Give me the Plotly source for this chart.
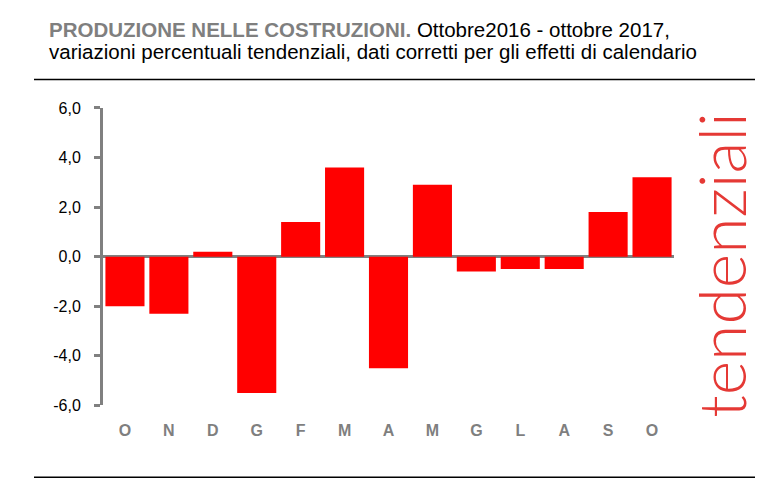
import plotly.graph_objects as go

W, H = 761, 494

months = ["O", "N", "D", "G", "F", "M", "A", "M", "G", "L", "A", "S", "O"]
values = [-2.0, -2.3, 0.2, -5.5, 1.4, 3.6, -4.5, 2.9, -0.6, -0.5, -0.5, 1.8, 3.2]
ytick_vals = [-6, -4, -2, 0, 2, 4, 6]
ytick_text = ["-6,0", "-4,0", "-2,0", "0,0", "2,0", "4,0", "6,0"]

cats = list(range(len(months)))

FONT = "Liberation Sans, Arial"

fig = go.Figure()
fig.add_trace(go.Bar(
    x=cats, y=values,
    marker=dict(color="#ff0000", line=dict(width=0)),
    width=0.89,
    hoverinfo="skip",
))

fig.update_layout(
    width=W, height=H,
    margin=dict(l=0, r=0, t=0, b=0),
    paper_bgcolor="white", plot_bgcolor="white",
    showlegend=False,
    xaxis=dict(
        domain=[103 / W, 674 / W],
        range=[-0.5, len(months) - 0.5],
        tickmode="array", tickvals=cats, ticktext=months,
        showgrid=False, zeroline=False, showline=False,
        ticks="", ticklabelstandoff=14,
        tickfont=dict(family=FONT, size=16, color="#7f7f7f", weight="bold"),
        fixedrange=True,
    ),
    yaxis=dict(
        domain=[1 - 411.5 / H, 1 - 103.5 / H],
        range=[-6, 6],
        tickmode="array", tickvals=ytick_vals, ticktext=ytick_text,
        showgrid=False,
        zeroline=True, zerolinecolor="#808080", zerolinewidth=3,
        showline=True, linecolor="#808080", linewidth=3,
        ticks="outside", ticklen=6, tickwidth=3, tickcolor="#808080",
        ticklabelstandoff=10,
        tickfont=dict(family=FONT, size=16, color="#000000"),
        fixedrange=True,
    ),
    shapes=[
        dict(type="line", xref="paper", yref="paper",
             x0=34 / W, x1=755 / W, y0=1 - 74 / H, y1=1 - 74 / H,
             line=dict(color="#000000", width=1.5)),
        dict(type="line", xref="paper", yref="paper",
             x0=34 / W, x1=755 / W, y0=1 - 486 / H, y1=1 - 486 / H,
             line=dict(color="#000000", width=1.5)),
    ],
    annotations=[
        dict(xref="paper", yref="paper", x=47 / W, y=1 - 36 / H,
             xanchor="left", yanchor="bottom", showarrow=False,
             text="<b><span style='color:#7f7f7f'>PRODUZIONE NELLE COSTRUZIONI.</span></b> Ottobre2016 - ottobre 2017,",
             font=dict(family=FONT, size=20.5, color="#000000")),
        dict(xref="paper", yref="paper", x=47 / W, y=1 - 59.5 / H,
             xanchor="left", yanchor="bottom", showarrow=False,
             text="variazioni percentuali tendenziali, dati corretti per gli effetti di calendario",
             font=dict(family=FONT, size=20.5, color="#000000")),
        dict(xref="paper", yref="paper", x=721 / W, y=1 - 267 / H,
             xanchor="center", yanchor="middle", showarrow=False,
             textangle=-90,
             text="tendenziali",
             font=dict(family="Lato, Open Sans, Liberation Sans", size=66, color="#e53935", weight=300)),
    ],
)

fig.write_html("out.html", config={"displayModeBar": False},
               post_script="document.body.style.margin='0';document.body.style.padding='0';")
